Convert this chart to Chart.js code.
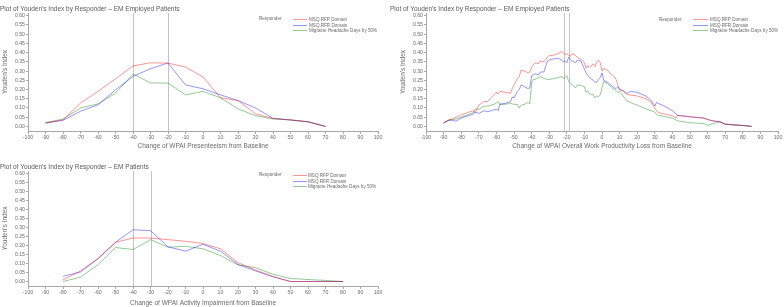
<!DOCTYPE html>
<html><head><meta charset="utf-8">
<script src="https://cdn.jsdelivr.net/npm/chart.js@4/dist/chart.umd.min.js"></script>
<style>
html,body{margin:0;padding:0;background:#fff;width:784px;height:307px;overflow:hidden;}
.box{position:absolute;}
canvas{display:block;}
</style></head><body>
<div class="box" style="left:0;top:0;"><canvas id="c1" width="392" height="152"></canvas></div>
<div class="box" style="left:390px;top:0;"><canvas id="c2" width="394" height="152"></canvas></div>
<div class="box" style="left:0;top:155px;"><canvas id="c3" width="392" height="152"></canvas></div>
<script>
// ---- data ----
const seriesNames = ['MSQ RFP Domain', 'MSQ RFR Domain', 'Migraine Headache Days by 50%'];
const xTicks = [-100,-90,-80,-70,-60,-50,-40,-30,-20,-10,0,10,20,30,40,50,60,70,80,90,100];
const yTicks = [0,0.05,0.10,0.15,0.20,0.25,0.30,0.35,0.40,0.45,0.50,0.55,0.60];

// WPAI Presenteeism (EM employed)
const presX   = [-90,-80,-70,-60,-50,-40,-30,-20,-10,0,10,20,30,40,50,60,70];
const presRFP = [0.020,0.035,0.127,0.190,0.258,0.328,0.345,0.343,0.322,0.268,0.155,0.140,0.068,0.043,0.035,0.025,0.000];
const presRFR = [0.017,0.033,0.082,0.117,0.198,0.271,0.313,0.344,0.225,0.204,0.171,0.140,0.100,0.044,0.035,0.025,0.000];
const presMHD = [0.020,0.040,0.100,0.122,0.180,0.284,0.236,0.235,0.171,0.190,0.155,0.095,0.058,0.040,0.035,0.025,0.000];
const presRefs = [-40, -20];

// WPAI Overall Work Productivity Loss (EM employed)
const wplX   = [-90,-87,-85,-83,-80,-77,-75,-73,-72,-70,-67,-65,-63,-60,-59,-58,-55,-52,-51,-50,-48,-47,-46,-44,-42,-41,-40,-39,-38,-36,-35,-33,-31,-30,-28,-25,-23,-22,-21,-20,-19,-18,-17,-15,-14,-12,-10,-9,-8,-7,-5,-4,-3,-2,-1,0,1,3,5,7,8,9,10,12,14,16,20,25,28,29,30,31,32,35,40,42,43,50,58,60,63,65,67,70,75,80,85];
const wplRFP = [0.020,0.035,0.040,0.050,0.062,0.072,0.080,0.085,0.075,0.115,0.135,0.135,0.155,0.185,0.175,0.190,0.185,0.180,0.205,0.225,0.260,0.270,0.305,0.300,0.290,0.295,0.320,0.335,0.345,0.340,0.355,0.350,0.375,0.385,0.385,0.395,0.405,0.400,0.390,0.395,0.385,0.380,0.395,0.385,0.375,0.365,0.345,0.315,0.330,0.320,0.340,0.325,0.350,0.360,0.345,0.300,0.315,0.305,0.285,0.270,0.255,0.225,0.200,0.190,0.175,0.170,0.165,0.150,0.130,0.115,0.100,0.085,0.075,0.068,0.057,0.045,0.060,0.052,0.045,0.037,0.030,0.027,0.025,0.012,0.008,0.005,0.000];
const wplRFR = [0.018,0.033,0.033,0.028,0.045,0.055,0.060,0.068,0.078,0.070,0.085,0.080,0.085,0.095,0.085,0.120,0.125,0.135,0.160,0.155,0.190,0.200,0.225,0.215,0.205,0.210,0.275,0.280,0.285,0.280,0.295,0.295,0.355,0.360,0.365,0.370,0.360,0.350,0.355,0.345,0.375,0.365,0.355,0.345,0.360,0.355,0.310,0.290,0.275,0.265,0.250,0.240,0.240,0.255,0.265,0.290,0.250,0.240,0.225,0.210,0.205,0.215,0.200,0.195,0.178,0.190,0.185,0.165,0.140,0.125,0.110,0.130,0.125,0.112,0.085,0.068,0.060,0.052,0.045,0.037,0.030,0.028,0.025,0.012,0.008,0.005,0.000];
const wplMHD = [0.018,0.035,0.037,0.040,0.050,0.060,0.068,0.075,0.095,0.092,0.110,0.110,0.115,0.125,0.135,0.120,0.120,0.125,0.122,0.120,0.118,0.100,0.115,0.120,0.130,0.122,0.235,0.255,0.255,0.265,0.270,0.260,0.255,0.255,0.258,0.265,0.270,0.262,0.265,0.275,0.245,0.235,0.225,0.210,0.225,0.222,0.215,0.185,0.190,0.175,0.172,0.155,0.165,0.162,0.170,0.210,0.245,0.232,0.215,0.200,0.195,0.185,0.188,0.165,0.140,0.130,0.115,0.095,0.085,0.082,0.078,0.065,0.060,0.055,0.045,0.035,0.030,0.020,0.015,0.005,0.015,0.020,0.025,0.012,0.008,0.005,0.000];
const wplRefs = [-21.5, -18.5];

// WPAI Activity Impairment (EM patients)
const actX   = [-80,-70,-60,-50,-40,-30,-20,-10,0,10,20,30,40,50,60,70,80];
const actRFP = [0.009,0.059,0.128,0.218,0.242,0.242,0.233,0.224,0.211,0.182,0.105,0.064,0.028,0.000,0.000,0.000,0.000];
const actRFR = [0.029,0.053,0.127,0.218,0.288,0.283,0.193,0.169,0.207,0.169,0.095,0.059,0.026,0.000,0.000,0.000,0.000];
const actMHD = [0.000,0.024,0.094,0.189,0.178,0.233,0.191,0.196,0.182,0.145,0.092,0.077,0.040,0.017,0.011,0.006,0.000];
const actRefs = [-40, -30];

// ---- styling ----
const FF = "'Liberation Sans', Arial, sans-serif";
const TXT = '#6a6a6a';
const AX = '#a8a8a8';
const colors = ['rgba(255,0,0,0.42)', 'rgba(0,0,255,0.42)', 'rgba(0,128,0,0.42)'];

const refPlugin = {
  id: 'refLines',
  beforeDatasetsDraw(chart, args, opts) {
    const {ctx, chartArea, scales} = chart;
    ctx.save();
    ctx.strokeStyle = '#c4c4c4';
    ctx.lineWidth = 1;
    (opts.values || []).forEach(v => {
      const px = Math.round(scales.x.getPixelForValue(v)) + 0.5;
      ctx.beginPath();
      ctx.moveTo(px, chartArea.top);
      ctx.lineTo(px, chartArea.bottom);
      ctx.stroke();
    });
    ctx.restore();
  }
};

const legendPlugin = {
  id: 'respLegend',
  afterDraw(chart, args, o) {
    const {ctx, chartArea} = chart;
    ctx.save();
    ctx.font = o.size + 'px ' + FF;
    ctx.fillStyle = TXT;
    ctx.textBaseline = 'middle';
    ctx.textAlign = 'left';
    const L = chartArea.left, T = chartArea.top;
    ctx.fillText('Responder', L + o.rx, T + o.y0);
    chart.data.datasets.forEach((ds, i) => {
      const y = Math.round(T + o.y0 + i * o.dy) + 0.5;
      ctx.strokeStyle = ds.borderColor;
      ctx.lineWidth = 1;
      ctx.beginPath();
      ctx.moveTo(L + o.lx1, y);
      ctx.lineTo(L + o.lx2, y);
      ctx.stroke();
      ctx.fillStyle = TXT;
      ctx.fillText(ds.label, L + o.tx, y);
    });
    ctx.restore();
  }
};

function makeChart(id, xs, series, refs, title, xTitle, g) {
  const datasets = series.map((ys, i) => ({
    label: seriesNames[i],
    data: xs.map((x, j) => ({x: x, y: ys[j]})),
    borderColor: colors[i],
    backgroundColor: colors[i],
    borderWidth: 1,
    pointRadius: 0,
    tension: 0,
    fill: false
  }));
  return new Chart(document.getElementById(id), {
    type: 'line',
    data: {datasets},
    options: {
      responsive: false,
      animation: false,
      events: [],
      layout: {padding: {top: g.padTop, left: 0, right: g.padRight, bottom: 0}},
      plugins: {
        legend: {display: false},
        tooltip: {enabled: false},
        title: {display: true, text: title, align: 'start', color: '#5a5a5a',
                font: {family: FF, size: 6.5, weight: 'normal'}, padding: 0},
        refLines: {values: refs},
        respLegend: g.legend
      },
      scales: {
        x: {
          type: 'linear', min: -100, max: 100,
          afterBuildTicks: a => { a.ticks = xTicks.map(v => ({value: v})); },
          afterFit: a => { a.height = g.xH; },
          ticks: {font: {family: FF, size: 5.2}, color: TXT, padding: 0.5, maxRotation: 0, autoSkip: false,
                  callback: v => String(v)},
          grid: {display: true, drawOnChartArea: false, drawTicks: true, tickLength: 3, color: AX},
          border: {display: true, color: AX},
          title: {display: true, text: xTitle, color: TXT, font: {family: FF, size: 6.5},
                  padding: {top: 0, bottom: g.xtPad}}
        },
        y: {
          type: 'linear', min: -0.025, max: 0.615,
          afterBuildTicks: a => { a.ticks = yTicks.map(v => ({value: v})); },
          afterFit: a => { a.width = g.yW; },
          ticks: {font: {family: FF, size: 5.2}, color: TXT, padding: 1, autoSkip: false,
                  callback: v => Number(v).toFixed(2)},
          grid: {display: true, drawOnChartArea: false, drawTicks: true, tickLength: 2, color: AX},
          border: {display: true, color: AX},
          title: {display: true, text: "Youden's Index", color: TXT, font: {family: FF, size: 6.5},
                  padding: {top: g.ytPad, bottom: 0}}
        }
      }
    },
    plugins: [refPlugin, legendPlugin]
  });
}

makeChart('c1', presX, [presRFP, presRFR, presMHD], presRefs,
  "Plot of Youden's Index by Responder \u2013 EM Employed Patients",
  'Change of WPAI Presenteeism from Baseline',
  {padTop: 5.2, padRight: 14, yW: 28, xH: 21, xtPad: 1.6, ytPad: 1.1,
   legend: {size: 4.6, rx: 231, y0: 6, dy: 5.6, lx1: 265, lx2: 279, tx: 281}});

makeChart('c2', wplX, [wplRFP, wplRFR, wplMHD], wplRefs,
  "Plot of Youden's Index by Responder \u2013 EM Employed Patients",
  'Change of WPAI Overall Work Productivity Loss from Baseline',
  {padTop: 5.2, padRight: 6, yW: 36, xH: 21, xtPad: 1.6, ytPad: 9,
   legend: {size: 4.6, rx: 233, y0: 6.3, dy: 5.4, lx1: 267, lx2: 282, tx: 284}});

makeChart('c3', actX, [actRFP, actRFR, actMHD], actRefs,
  "Plot of Youden's Index by Responder \u2013 EM Patients",
  'Change of WPAI Activity Impairment from Baseline',
  {padTop: 8.2, padRight: 14, yW: 28, xH: 21, xtPad: 0, ytPad: 1.5,
   legend: {size: 4.6, rx: 231, y0: 4, dy: 5.6, lx1: 265, lx2: 279, tx: 280}});
</script>
</body></html>
